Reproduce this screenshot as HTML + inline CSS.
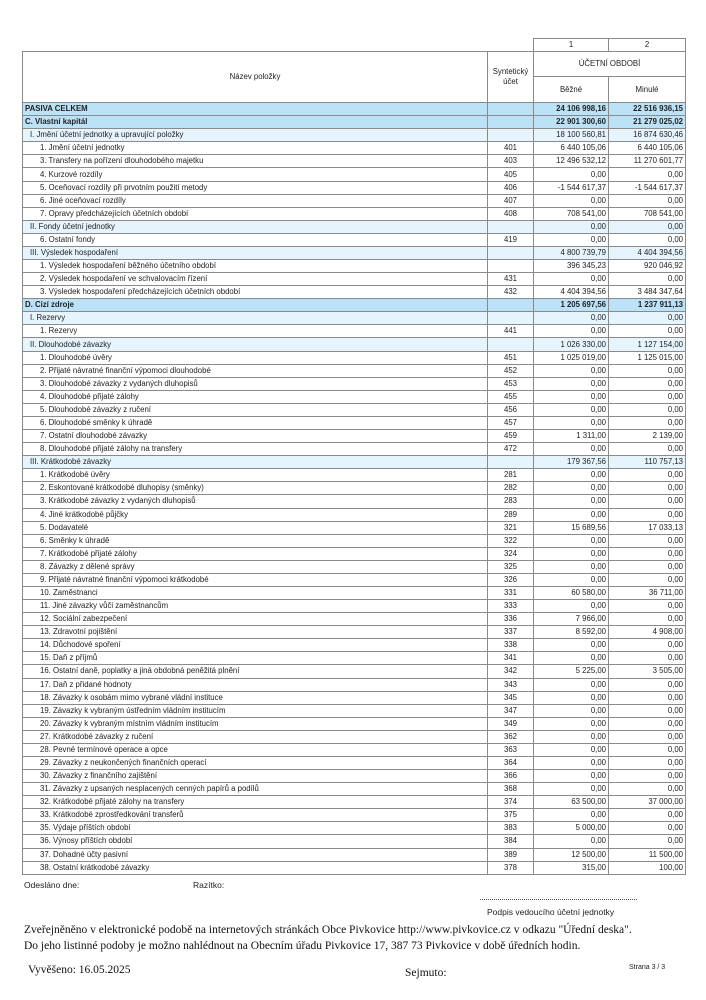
<!DOCTYPE html>
<html><head><meta charset="utf-8"><style>
body{margin:0;width:706px;height:1000px;background:#fff;position:relative;font-family:"Liberation Sans",sans-serif;color:#222;}
table{position:absolute;left:22px;top:38px;border-collapse:collapse;table-layout:fixed;font-size:7.8px;}
td{border:1px solid #8a8a8a;height:12.08px;padding:0 2px;white-space:nowrap;overflow:hidden;line-height:12px;}
td.n{text-align:right;}
td.c{text-align:center;}
tr.a td{background:#bde2f8;font-weight:bold;}
tr.b td{background:#e6f4fd;}
.i1{padding-left:7px}.i2{padding-left:17px}
.abs{position:absolute;white-space:nowrap;}
.serif{font-family:"Liberation Serif",serif;font-size:11.5px;color:#111;}
</style></head><body>
<table>
<colgroup><col style="width:465px"><col style="width:46px"><col style="width:75px"><col style="width:77px"></colgroup>
<tr><td style="border:none"></td><td style="border:none;border-right:1px solid #8a8a8a"></td><td class="c">1</td><td class="c">2</td></tr>
<tr><td rowspan="2" class="c" style="height:50px">Název položky</td><td rowspan="2" class="c" style="line-height:10px;white-space:normal">Syntetický účet</td><td colspan="2" class="c" style="height:24px">ÚČETNÍ OBDOBÍ</td></tr>
<tr><td class="c" style="height:25px">Běžné</td><td class="c">Minulé</td></tr>
<tr class="a"><td>PASIVA CELKEM</td><td></td><td class="n">24 106 998,16</td><td class="n">22 516 936,15</td></tr>
<tr class="a"><td>C. Vlastní kapitál</td><td></td><td class="n">22 901 300,60</td><td class="n">21 279 025,02</td></tr>
<tr class="b"><td class="i1">I. Jmění účetní jednotky a upravující položky</td><td></td><td class="n">18 100 560,81</td><td class="n">16 874 630,46</td></tr>
<tr><td class="i2">1. Jmění účetní jednotky</td><td class="c">401</td><td class="n">6 440 105,06</td><td class="n">6 440 105,06</td></tr>
<tr><td class="i2">3. Transfery na pořízení dlouhodobého majetku</td><td class="c">403</td><td class="n">12 496 532,12</td><td class="n">11 270 601,77</td></tr>
<tr><td class="i2">4. Kurzové rozdíly</td><td class="c">405</td><td class="n">0,00</td><td class="n">0,00</td></tr>
<tr><td class="i2">5. Oceňovací rozdíly při prvotním použití metody</td><td class="c">406</td><td class="n">-1 544 617,37</td><td class="n">-1 544 617,37</td></tr>
<tr><td class="i2">6. Jiné oceňovací rozdíly</td><td class="c">407</td><td class="n">0,00</td><td class="n">0,00</td></tr>
<tr><td class="i2">7. Opravy předcházejících účetních období</td><td class="c">408</td><td class="n">708 541,00</td><td class="n">708 541,00</td></tr>
<tr class="b"><td class="i1">II. Fondy účetní jednotky</td><td></td><td class="n">0,00</td><td class="n">0,00</td></tr>
<tr><td class="i2">6. Ostatní fondy</td><td class="c">419</td><td class="n">0,00</td><td class="n">0,00</td></tr>
<tr class="b"><td class="i1">III. Výsledek hospodaření</td><td></td><td class="n">4 800 739,79</td><td class="n">4 404 394,56</td></tr>
<tr><td class="i2">1. Výsledek hospodaření běžného účetního období</td><td class="c"></td><td class="n">396 345,23</td><td class="n">920 046,92</td></tr>
<tr><td class="i2">2. Výsledek hospodaření ve schvalovacím řízení</td><td class="c">431</td><td class="n">0,00</td><td class="n">0,00</td></tr>
<tr><td class="i2">3. Výsledek hospodaření předcházejících účetních období</td><td class="c">432</td><td class="n">4 404 394,56</td><td class="n">3 484 347,64</td></tr>
<tr class="a"><td>D. Cizí zdroje</td><td></td><td class="n">1 205 697,56</td><td class="n">1 237 911,13</td></tr>
<tr class="b"><td class="i1">I. Rezervy</td><td></td><td class="n">0,00</td><td class="n">0,00</td></tr>
<tr><td class="i2">1. Rezervy</td><td class="c">441</td><td class="n">0,00</td><td class="n">0,00</td></tr>
<tr class="b"><td class="i1">II. Dlouhodobé závazky</td><td></td><td class="n">1 026 330,00</td><td class="n">1 127 154,00</td></tr>
<tr><td class="i2">1. Dlouhodobé úvěry</td><td class="c">451</td><td class="n">1 025 019,00</td><td class="n">1 125 015,00</td></tr>
<tr><td class="i2">2. Přijaté návratné finanční výpomoci dlouhodobé</td><td class="c">452</td><td class="n">0,00</td><td class="n">0,00</td></tr>
<tr><td class="i2">3. Dlouhodobé závazky z vydaných dluhopisů</td><td class="c">453</td><td class="n">0,00</td><td class="n">0,00</td></tr>
<tr><td class="i2">4. Dlouhodobé přijaté zálohy</td><td class="c">455</td><td class="n">0,00</td><td class="n">0,00</td></tr>
<tr><td class="i2">5. Dlouhodobé závazky z ručení</td><td class="c">456</td><td class="n">0,00</td><td class="n">0,00</td></tr>
<tr><td class="i2">6. Dlouhodobé směnky k úhradě</td><td class="c">457</td><td class="n">0,00</td><td class="n">0,00</td></tr>
<tr><td class="i2">7. Ostatní dlouhodobé závazky</td><td class="c">459</td><td class="n">1 311,00</td><td class="n">2 139,00</td></tr>
<tr><td class="i2">8. Dlouhodobé přijaté zálohy na transfery</td><td class="c">472</td><td class="n">0,00</td><td class="n">0,00</td></tr>
<tr class="b"><td class="i1">III. Krátkodobé závazky</td><td></td><td class="n">179 367,56</td><td class="n">110 757,13</td></tr>
<tr><td class="i2">1. Krátkodobé úvěry</td><td class="c">281</td><td class="n">0,00</td><td class="n">0,00</td></tr>
<tr><td class="i2">2. Eskontované krátkodobé dluhopisy (směnky)</td><td class="c">282</td><td class="n">0,00</td><td class="n">0,00</td></tr>
<tr><td class="i2">3. Krátkodobé závazky z vydaných dluhopisů</td><td class="c">283</td><td class="n">0,00</td><td class="n">0,00</td></tr>
<tr><td class="i2">4. Jiné krátkodobé půjčky</td><td class="c">289</td><td class="n">0,00</td><td class="n">0,00</td></tr>
<tr><td class="i2">5. Dodavatelé</td><td class="c">321</td><td class="n">15 689,56</td><td class="n">17 033,13</td></tr>
<tr><td class="i2">6. Směnky k úhradě</td><td class="c">322</td><td class="n">0,00</td><td class="n">0,00</td></tr>
<tr><td class="i2">7. Krátkodobé přijaté zálohy</td><td class="c">324</td><td class="n">0,00</td><td class="n">0,00</td></tr>
<tr><td class="i2">8. Závazky z dělené správy</td><td class="c">325</td><td class="n">0,00</td><td class="n">0,00</td></tr>
<tr><td class="i2">9. Přijaté návratné finanční výpomoci krátkodobé</td><td class="c">326</td><td class="n">0,00</td><td class="n">0,00</td></tr>
<tr><td class="i2">10. Zaměstnanci</td><td class="c">331</td><td class="n">60 580,00</td><td class="n">36 711,00</td></tr>
<tr><td class="i2">11. Jiné závazky vůči zaměstnancům</td><td class="c">333</td><td class="n">0,00</td><td class="n">0,00</td></tr>
<tr><td class="i2">12. Sociální zabezpečení</td><td class="c">336</td><td class="n">7 966,00</td><td class="n">0,00</td></tr>
<tr><td class="i2">13. Zdravotní pojištění</td><td class="c">337</td><td class="n">8 592,00</td><td class="n">4 908,00</td></tr>
<tr><td class="i2">14. Důchodové spoření</td><td class="c">338</td><td class="n">0,00</td><td class="n">0,00</td></tr>
<tr><td class="i2">15. Daň z příjmů</td><td class="c">341</td><td class="n">0,00</td><td class="n">0,00</td></tr>
<tr><td class="i2">16. Ostatní daně, poplatky a jiná obdobná peněžitá plnění</td><td class="c">342</td><td class="n">5 225,00</td><td class="n">3 505,00</td></tr>
<tr><td class="i2">17. Daň z přidané hodnoty</td><td class="c">343</td><td class="n">0,00</td><td class="n">0,00</td></tr>
<tr><td class="i2">18. Závazky k osobám mimo vybrané vládní instituce</td><td class="c">345</td><td class="n">0,00</td><td class="n">0,00</td></tr>
<tr><td class="i2">19. Závazky k vybraným ústředním vládním institucím</td><td class="c">347</td><td class="n">0,00</td><td class="n">0,00</td></tr>
<tr><td class="i2">20. Závazky k vybraným místním vládním institucím</td><td class="c">349</td><td class="n">0,00</td><td class="n">0,00</td></tr>
<tr><td class="i2">27. Krátkodobé závazky z ručení</td><td class="c">362</td><td class="n">0,00</td><td class="n">0,00</td></tr>
<tr><td class="i2">28. Pevné termínové operace a opce</td><td class="c">363</td><td class="n">0,00</td><td class="n">0,00</td></tr>
<tr><td class="i2">29. Závazky z neukončených finančních operací</td><td class="c">364</td><td class="n">0,00</td><td class="n">0,00</td></tr>
<tr><td class="i2">30. Závazky z finančního zajištění</td><td class="c">366</td><td class="n">0,00</td><td class="n">0,00</td></tr>
<tr><td class="i2">31. Závazky z upsaných nesplacených cenných papírů a podílů</td><td class="c">368</td><td class="n">0,00</td><td class="n">0,00</td></tr>
<tr><td class="i2">32. Krátkodobé přijaté zálohy na transfery</td><td class="c">374</td><td class="n">63 500,00</td><td class="n">37 000,00</td></tr>
<tr><td class="i2">33. Krátkodobé zprostředkování transferů</td><td class="c">375</td><td class="n">0,00</td><td class="n">0,00</td></tr>
<tr><td class="i2">35. Výdaje příštích období</td><td class="c">383</td><td class="n">5 000,00</td><td class="n">0,00</td></tr>
<tr><td class="i2">36. Výnosy příštích období</td><td class="c">384</td><td class="n">0,00</td><td class="n">0,00</td></tr>
<tr><td class="i2">37. Dohadné účty pasivní</td><td class="c">389</td><td class="n">12 500,00</td><td class="n">11 500,00</td></tr>
<tr><td class="i2">38. Ostatní krátkodobé závazky</td><td class="c">378</td><td class="n">315,00</td><td class="n">100,00</td></tr>
</table>
<div class="abs" style="left:24px;top:880px;font-size:8.5px">Odesláno dne:</div>
<div class="abs" style="left:193px;top:880px;font-size:8.5px">Razítko:</div>
<div class="abs" style="left:480px;top:899px;width:157px;border-top:1px dotted #555"></div>
<div class="abs" style="left:487px;top:907px;font-size:8.5px">Podpis vedoucího účetní jednotky</div>
<div class="abs serif" style="left:24px;top:924px">Zveřejněněno v elektronické podobě na internetových stránkách Obce Pivkovice http://www.pivkovice.cz v odkazu "Úřední deska".</div>
<div class="abs serif" style="left:24px;top:940px">Do jeho listinné podoby je možno nahlédnout na Obecním úřadu Pivkovice 17, 387 73 Pivkovice v době úředních hodin.</div>
<div class="abs serif" style="left:28px;top:964px">Vyvěšeno: 16.05.2025</div>
<div class="abs serif" style="left:405px;top:967px">Sejmuto:</div>
<div class="abs" style="left:629px;top:964px;font-size:7px">Strana 3 / 3</div>
</body></html>
